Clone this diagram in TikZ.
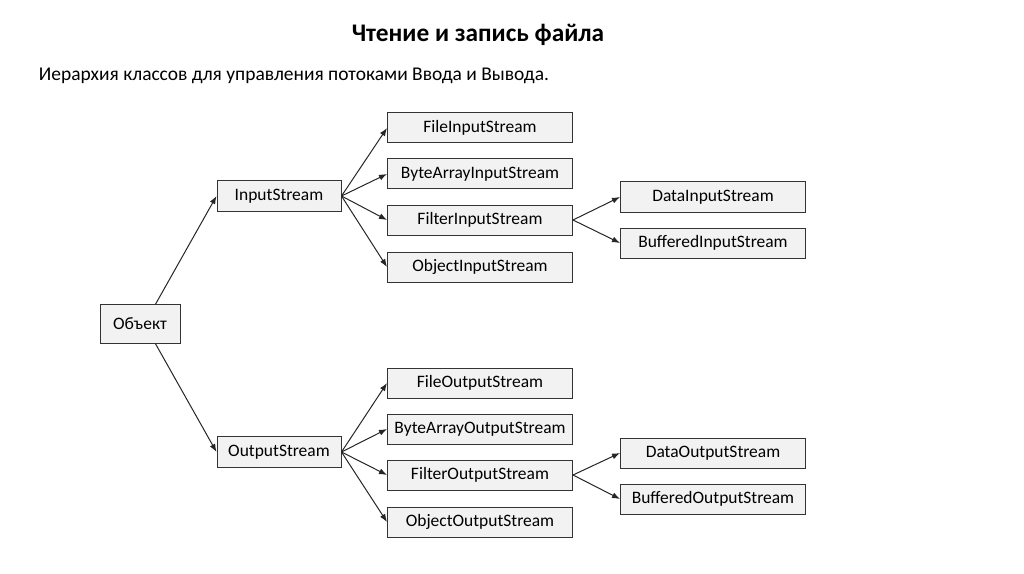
\documentclass[tikz,border=0pt]{standalone}
\usepackage{fontspec}
\setmainfont{Carlito}
\usetikzlibrary{arrows.meta}

\begin{document}
\begin{tikzpicture}[x=0.75pt, y=-0.75pt, line width=0.75pt,
  cls/.style={draw=black!80, fill=black!5, font=\fontsize{13.1pt}{15pt}\selectfont,
    inner sep=0pt, minimum width=138.75pt, minimum height=22.5pt},
  root/.style={cls, minimum width=93pt, minimum height=23.25pt},
  base/.style={cls, minimum width=60pt, minimum height=29.25pt},
  link/.style={-{Latex[length=6pt,width=4.5pt]}, black!85},
]
  \useasboundingbox (0,0) rectangle (1024,574);
  \node[font=\fontsize{19pt}{22pt}\selectfont\bfseries] (title) at (478,35) {Чтение и запись файла};
  \node[font=\fontsize{14.6pt}{17pt}\selectfont, anchor=west] (sub) at (34,76)
    {Иерархия классов для управления потоками Ввода и Вывода.};

  \node[base] (obj) at (140,324) {Объект};
  \node[root] (in)  at (279,196) {InputStream};
  \node[root] (out) at (279,452) {OutputStream};

  \node[cls] (fileIn)   at (480,128) {FileInputStream};
  \node[cls] (byteIn)   at (480,174) {ByteArrayInputStream};
  \node[cls] (filterIn) at (480,220) {FilterInputStream};
  \node[cls] (objIn)    at (480,267) {ObjectInputStream};
  \node[cls] (dataIn)   at (713,197) {DataInputStream};
  \node[cls] (bufIn)    at (713,243) {BufferedInputStream};

  \node[cls] (fileOut)   at (480,383) {FileOutputStream};
  \node[cls] (byteOut)   at (480,429) {ByteArrayOutputStream};
  \node[cls] (filterOut) at (480,475) {FilterOutputStream};
  \node[cls] (objOut)    at (480,522) {ObjectOutputStream};
  \node[cls] (dataOut)   at (713,453) {DataOutputStream};
  \node[cls] (bufOut)    at (713,499) {BufferedOutputStream};

  \draw[link] (obj.52) -- (in.west);
  \draw[link] (obj.-52) -- (out.west);
  \foreach \c in {fileIn,byteIn,filterIn,objIn}
    \draw[link] (in.east) -- (\c.west);
  \foreach \c in {fileOut,byteOut,filterOut,objOut}
    \draw[link] (out.east) -- (\c.west);
  \foreach \c in {dataIn,bufIn}
    \draw[link] (filterIn.east) -- (\c.west);
  \foreach \c in {dataOut,bufOut}
    \draw[link] (filterOut.east) -- (\c.west);
\end{tikzpicture}
\end{document}
